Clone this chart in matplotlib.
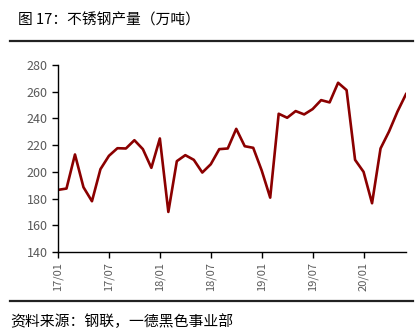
import matplotlib
matplotlib.use("Agg")
import matplotlib.pyplot as plt
from matplotlib.lines import Line2D

plt.rcParams['font.family'] = ['Noto Sans CJK SC', 'DejaVu Sans']

# monthly output, 2017/01 - 2020/06
output = [186.5, 187.5, 213, 188.5, 178, 202, 212, 217.7, 217.5, 223.7, 217, 203,
          225, 170, 208, 212.5, 209, 199.5, 205.7, 217, 217.5, 232.2, 219.2, 218,
          201, 180.7, 243.5, 240.5, 245.5, 243, 247, 253.7, 252, 266.7, 261.2, 209,
          200, 176.5, 217.5, 230.2, 245.2, 258.2]
tick_pos = [0, 6, 12, 18, 24, 30, 36]
tick_labels = ["17/01", "17/07", "18/01", "18/07", "19/01", "19/07", "20/01"]
y_ticks = [140, 160, 180, 200, 220, 240, 260, 280]

fig = plt.figure(figsize=(4.19, 3.31), dpi=100)
ax = fig.add_axes([58 / 419, 1 - 252 / 331, 348 / 419, 187 / 331])

ax.plot(range(len(output)), output, color="#8B0000", linewidth=1.9)
ax.set_xlim(0, len(output) - 1)
ax.set_ylim(140, 280)
ax.set_yticks(y_ticks)
ax.set_xticks(tick_pos)
ax.set_xticklabels(tick_labels, rotation=90)
ax.tick_params(axis="y", labelsize=9, colors="#595959", length=4, width=1)
ax.tick_params(axis="x", labelsize=8, colors="#595959", length=4, width=1)
ax.tick_params(axis="both", color="black")
for s in ["top", "right"]:
    ax.spines[s].set_visible(False)
for s in ["left", "bottom"]:
    ax.spines[s].set_color("black")
    ax.spines[s].set_linewidth(1)

fig.text(18 / 419, 1 - 20 / 331, "图 17：不锈钢产量（万吨）", fontsize=10.6,
         va="center", ha="left", color="black")
fig.add_artist(Line2D([10 / 419, 413 / 419], [1 - 40.5 / 331, 1 - 40.5 / 331],
                      color="#222222", linewidth=1.6))
fig.add_artist(Line2D([10 / 419, 413 / 419], [1 - 300.5 / 331, 1 - 300.5 / 331],
                      color="#222222", linewidth=1.6))
fig.text(10 / 419, 1 - 322 / 331, "资料来源：钢联，一德黑色事业部", fontsize=10.7,
         va="center", ha="left", color="black")

fig.savefig("out.png", dpi=100)
